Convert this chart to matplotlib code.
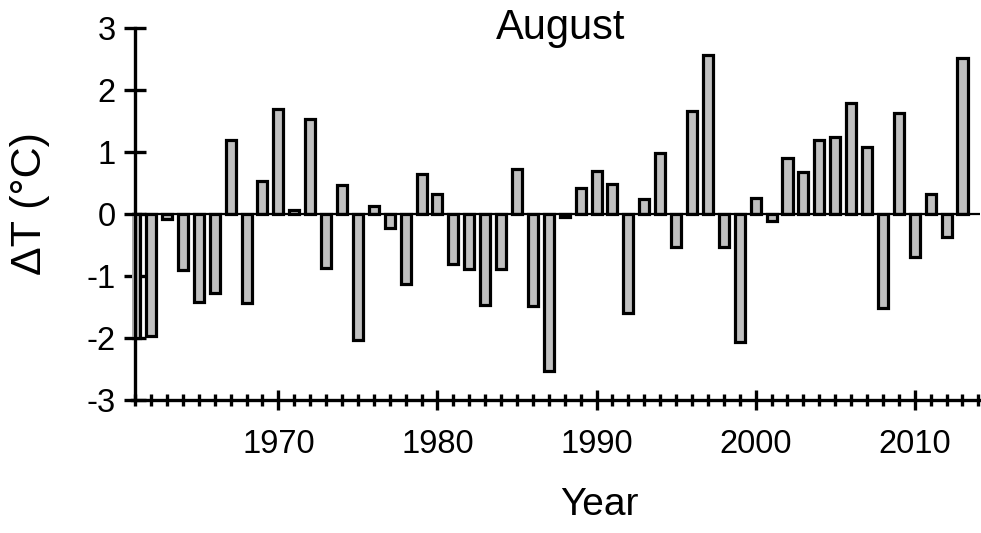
import matplotlib
matplotlib.use("Agg")
import matplotlib.pyplot as plt
from matplotlib.ticker import MultipleLocator

plt.rcParams['font.family'] = ['Liberation Sans', 'DejaVu Sans']

years = list(range(1961, 2014))
delta_t = [
    -2.00, -1.96, -0.08, -0.91, -1.42, -1.27, 1.19, -1.44, 0.53, 1.69,
    0.07, 1.54, -0.87, 0.46, -2.03, 0.13, -0.22, -1.13, 0.65, 0.33,
    -0.81, -0.89, -1.46, -0.88, 0.73, -1.49, -2.53, -0.05, 0.42, 0.70,
    0.49, -1.60, 0.24, 0.99, -0.54, 1.66, 2.57, -0.54, -2.07, 0.26,
    -0.11, 0.90, 0.68, 1.19, 1.25, 1.79, 1.08, -1.51, 1.63, -0.70,
    0.33, -0.37, 2.51,
]
major_years = [1970, 1980, 1990, 2000, 2010]
y_ticks = [-3, -2, -1, 0, 1, 2, 3]

fig = plt.figure(figsize=(9.81, 5.33), dpi=100)
ax = fig.add_axes([132/981, 1 - 400/533, (980 - 132)/981, (400 - 28)/533])

ax.bar(years, delta_t, width=0.63, color='#c0c0c0', edgecolor='black',
       linewidth=2.3, zorder=2)
ax.axhline(0, color='black', linewidth=1.6, zorder=3)

ax.set_xlim(1960.8, 2014.1)
ax.set_ylim(-3, 3)

for s in ['top', 'right']:
    ax.spines[s].set_visible(False)
ax.spines['left'].set_position(('data', 1961))
ax.spines['left'].set_linewidth(2.4)
ax.spines['bottom'].set_linewidth(2.4)
ax.spines['left'].set_zorder(4)

ax.set_xticks(major_years)
ax.set_xticklabels([str(y) for y in major_years])
ax.xaxis.set_minor_locator(MultipleLocator(1))
ax.set_yticks(y_ticks)
ax.set_yticklabels([str(v) for v in y_ticks])

ax.tick_params(axis='x', which='major', direction='inout', length=14, width=2.4,
               labelsize=23.5, pad=14)
ax.tick_params(axis='x', which='minor', direction='inout', length=9, width=2.4)
ax.tick_params(axis='y', which='major', direction='inout', length=16, width=2.4,
               labelsize=23.5, pad=6)

ax.text(0.505, 1.0, 'August', transform=ax.transAxes, ha='center', va='center',
        fontsize=30)
fig.text(599/981, 1 - 505/533, 'Year', ha='center', va='center', fontsize=28)
fig.text(30/981, 1 - 204/533, 'ΔT (°C)', ha='center', va='center',
         rotation=90, fontsize=31)

fig.savefig('out.png', dpi=100)
